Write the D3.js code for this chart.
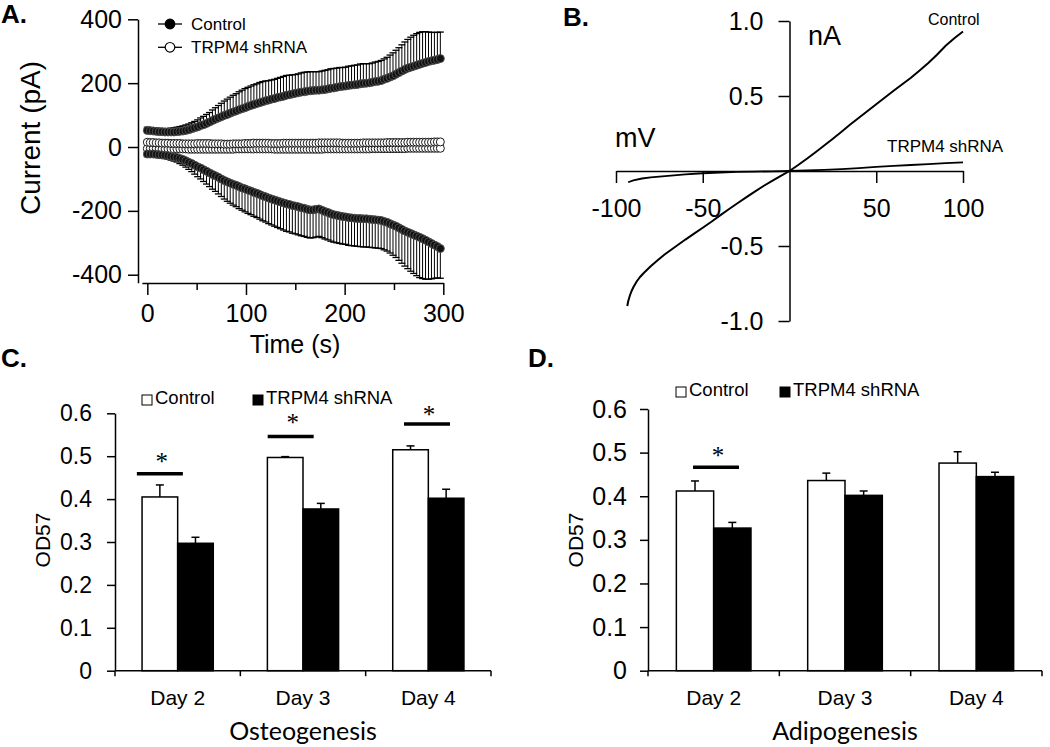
<!DOCTYPE html>
<html>
<head>
<meta charset="utf-8">
<script src="https://cdn.jsdelivr.net/npm/d3@7"></script>
<style>
html,body{margin:0;padding:0;background:#fff;}
svg{display:block;}
</style>
</head>
<body>
<script>
// ---------------- DATA ----------------
// Panel A: whole-cell current vs time (sampled every 3 s)
const sampleStepA = 3;
const ctrlOutward = [
 52,51,50,49,48,48,47,47,47,47,
 48,49,50,52,54,57,60,63,67,70,
 74,78,83,87,91,95,99,102,106,110,
 113,117,120,123,127,130,133,136,139,142,
 145,147,150,152,155,157,159,162,164,166,
 168,170,172,173,175,176,177,178,178,179,
 180,182,184,185,187,189,190,191,193,194,
 195,196,198,199,200,201,203,205,206,208,
 212,215,219,223,228,233,238,243,247,250,
 253,256,259,262,265,268,270,272,274,277];
const ctrlOutwardErr = [
 10,10,10,10,10,10,10,11,12,13,
 14,15,16,17,18,19,20,22,24,26,
 28,30,33,36,39,42,45,48,50,52,
 54,56,58,60,60,61,62,62,63,63,
 62,61,60,60,60,61,62,62,61,60,
 59,59,60,61,60,60,59,58,58,59,
 60,60,61,61,60,60,59,59,60,60,
 61,61,62,62,61,60,60,61,62,63,
 64,66,69,72,75,78,82,86,90,94,
 97,99,100,99,96,92,89,87,85,83];
const ctrlInward = [
 -22,-22,-22,-23,-24,-25,-26,-27,-29,-31,
 -33,-36,-39,-43,-48,-52,-57,-62,-66,-71,
 -76,-81,-86,-90,-95,-100,-105,-109,-113,-117,
 -120,-124,-128,-131,-135,-138,-142,-145,-149,-153,
 -156,-160,-163,-166,-169,-172,-175,-178,-180,-183,
 -185,-187,-190,-192,-195,-197,-197,-195,-194,-198,
 -202,-205,-209,-212,-214,-216,-218,-219,-221,-222,
 -223,-224,-224,-225,-225,-226,-227,-228,-229,-230,
 -233,-236,-240,-244,-248,-253,-258,-263,-267,-271,
 -275,-279,-283,-287,-292,-297,-302,-307,-312,-318];
const ctrlInwardErr = [
 8,8,8,9,9,10,10,11,12,13,
 14,16,18,20,22,25,28,31,34,37,
 40,43,46,49,52,55,58,61,63,65,
 67,69,70,72,73,74,75,76,77,78,
 79,80,81,82,83,84,85,86,86,87,
 87,88,88,88,88,88,87,87,86,86,
 86,86,86,86,86,86,86,86,87,87,
 87,87,88,88,88,88,88,88,88,88,
 89,90,92,95,98,102,106,110,114,118,
 121,124,126,125,122,117,111,104,98,93];
const shOutward = [
 15,14,14,13,13,12,12,12,11,11,
 11,11,10,10,10,10,10,11,11,11,
 11,11,10,10,10,10,9,9,9,10,
 10,10,10,11,11,11,12,12,12,12,
 12,12,11,11,11,11,12,12,12,12,
 12,12,12,12,12,12,12,12,13,13,
 13,13,13,13,13,13,12,12,12,12,
 12,12,12,13,13,13,13,13,13,13,
 13,14,14,14,14,14,14,14,15,15,
 15,15,15,15,15,15,15,16,16,16];
const shInward = [
 -5,-5,-5,-5,-6,-6,-6,-6,-6,-6,
 -6,-6,-6,-6,-7,-7,-7,-7,-7,-7,
 -7,-7,-7,-7,-7,-7,-7,-7,-7,-7,
 -6,-6,-6,-6,-6,-6,-6,-6,-6,-6,
 -6,-6,-6,-7,-7,-7,-7,-7,-7,-7,
 -7,-7,-7,-7,-7,-7,-7,-7,-7,-7,
 -6,-6,-6,-6,-6,-6,-6,-6,-6,-6,
 -6,-6,-6,-6,-6,-6,-5,-5,-5,-5,
 -5,-5,-5,-5,-5,-5,-5,-5,-4,-4,
 -4,-4,-4,-4,-4,-4,-4,-4,-4,-4];
const timeTicksA = [0, 100, 200, 300];
const timeMinorTicksA = [50, 150, 250];
const currentTicksA = [-400, -200, 0, 200, 400];
const seriesNamesA = ["Control", "TRPM4 shRNA"];

// Panel B: I-V relations (mV, nA)
const ivCtrlV = [-93.5,-93,-92,-91,-90,-88,-86,-84,-80,-76,-72,-68,-64,-60,-55,-50,-45,-40,-35,-30,-25,-20,-15,-10,-5,0,5,10,15,20,25,30,35,40,45,50,55,60,65,70,75,80,85,90,95,100];
const ivCtrlI = [-0.90,-0.87,-0.83,-0.80,-0.775,-0.735,-0.705,-0.68,-0.635,-0.595,-0.557,-0.523,-0.49,-0.457,-0.418,-0.378,-0.338,-0.296,-0.255,-0.215,-0.176,-0.137,-0.10,-0.066,-0.033,0,0.04,0.082,0.125,0.17,0.215,0.262,0.31,0.355,0.40,0.445,0.49,0.535,0.578,0.622,0.67,0.72,0.775,0.835,0.885,0.93];
const ivShV = [-93,-90,-85,-80,-70,-60,-50,-40,-30,-20,-10,0,10,20,30,40,50,60,70,80,90,100];
const ivShI = [-0.075,-0.062,-0.05,-0.042,-0.032,-0.023,-0.015,-0.01,-0.006,-0.004,-0.002,0,0.004,0.008,0.013,0.019,0.027,0.034,0.040,0.046,0.052,0.058];
const mvTicksB = [-100, -50, 50, 100];
const naTicksB = [-1.0, -0.5, 0.5, 1.0];

// Panels C and D: OD57
const days = ["Day 2", "Day 3", "Day 4"];
const barSeries = ["Control", "TRPM4 shRNA"];
const odTicks = [0, 0.1, 0.2, 0.3, 0.4, 0.5, 0.6];
const osteoControl = [0.405, 0.497, 0.515];
const osteoControlErr = [0.028, 0.002, 0.009];
const osteoShRNA = [0.297, 0.377, 0.402];
const osteoShRNAErr = [0.014, 0.013, 0.021];
const osteoSig = ["Day 2", "Day 3", "Day 4"];
const adipoControl = [0.412, 0.436, 0.476];
const adipoControlErr = [0.023, 0.017, 0.026];
const adipoShRNA = [0.327, 0.402, 0.445];
const adipoShRNAErr = [0.013, 0.010, 0.010];
const adipoSig = ["Day 2"];

// ---------------- DRAWING ----------------
const SANS = "'Liberation Sans', Arial, Helvetica, sans-serif";
const svg = d3.select("body").append("svg")
  .attr("width", 1050).attr("height", 747)
  .style("font-family", SANS);
svg.append("rect").attr("width", 1050).attr("height", 747).attr("fill", "#fff");

function styleAxis(g, size) {
  g.attr("font-family", SANS).attr("font-size", size);
  g.selectAll("path,line").attr("stroke", "#000").attr("stroke-width", 1.5);
  g.selectAll("text").attr("fill", "#000");
}
function label(g, txt, x, y, size, opts = {}) {
  const t = g.append("text").attr("x", x).attr("y", y).attr("font-size", size)
    .attr("fill", "#000").text(txt);
  if (opts.anchor) t.attr("text-anchor", opts.anchor);
  if (opts.weight) t.attr("font-weight", opts.weight);
  if (opts.family) t.attr("font-family", opts.family);
  if (opts.rotate) t.attr("transform", `rotate(${opts.rotate},${x},${y})`);
  if (opts.baseline) t.attr("dominant-baseline", opts.baseline);
  return t;
}

// ===== Panel A =====
{
  const g = svg.append("g");
  const x = d3.scaleLinear().domain([-5.5, 300]).range([141.9, 443.3]);
  const y = d3.scaleLinear().domain([-425, 400]).range([282.7, 19.3]);

  const ya = g.append("g").attr("transform", "translate(138,0)")
    .call(d3.axisLeft(y).tickValues(currentTicksA).tickSize(10).tickSizeOuter(0)
      .tickPadding(6).tickFormat(d => String(d)));
  styleAxis(ya, 25);
  const xa = g.append("g").attr("transform", "translate(0,283)")
    .call(d3.axisBottom(x).tickValues(timeTicksA).tickSize(12).tickSizeOuter(0)
      .tickPadding(9).tickFormat(d => String(d)));
  styleAxis(xa, 25);
  const xm = g.append("g").attr("transform", "translate(0,283)")
    .call(d3.axisBottom(x).tickValues(timeMinorTicksA).tickSize(7).tickSizeOuter(0).tickFormat(""));
  xm.select(".domain").remove();
  styleAxis(xm, 25);

  const series = [
    {vals: shInward, errs: null, dir: -1, fill: "#fff", stroke: "#000"},
    {vals: shOutward, errs: null, dir: 1, fill: "#fff", stroke: "#000"},
    {vals: ctrlOutward, errs: ctrlOutwardErr, dir: 1, fill: "#111", stroke: "#555"},
    {vals: ctrlInward, errs: ctrlInwardErr, dir: -1, fill: "#111", stroke: "#555"}
  ];
  const line = d3.line().x((d, i) => x(i * sampleStepA)).y(d => y(d));
  series.forEach(s => {
    const sg = g.append("g");
    sg.append("path").datum(s.vals).attr("d", line)
      .attr("fill", "none").attr("stroke", "#000").attr("stroke-width", 1);
    if (s.errs) {
      const eb = sg.append("g").selectAll("g").data(s.vals).join("g");
      eb.append("line")
        .attr("x1", (d, i) => x(i * sampleStepA)).attr("x2", (d, i) => x(i * sampleStepA))
        .attr("y1", d => y(d))
        .attr("y2", (d, i) => y(d + s.dir * s.errs[i]))
        .attr("stroke", "#000").attr("stroke-width", 1);
      eb.append("line")
        .attr("x1", (d, i) => x(i * sampleStepA) - 3.5).attr("x2", (d, i) => x(i * sampleStepA) + 3.5)
        .attr("y1", (d, i) => y(d + s.dir * s.errs[i]))
        .attr("y2", (d, i) => y(d + s.dir * s.errs[i]))
        .attr("stroke", "#000").attr("stroke-width", 1.3);
    }
  });
  series.forEach(s => {
    g.append("g").selectAll("circle").data(s.vals).join("circle")
      .attr("cx", (d, i) => x(i * sampleStepA)).attr("cy", d => y(d)).attr("r", 4)
      .attr("fill", s.fill).attr("stroke", s.stroke).attr("stroke-width", 0.9);
  });

  // legend
  const lg = g.append("g");
  seriesNamesA.forEach((name, i) => {
    const cy = 24 + i * 23.3;
    lg.append("line").attr("x1", 158).attr("x2", 182).attr("y1", cy).attr("y2", cy)
      .attr("stroke", "#000").attr("stroke-width", 1.3);
    lg.append("circle").attr("cx", 170).attr("cy", cy).attr("r", 4.8)
      .attr("fill", i === 0 ? "#000" : "#fff").attr("stroke", "#000").attr("stroke-width", 1.2);
    label(lg, name, 191, cy + 6, 17);
  });

  label(g, "Current (pA)", 30, 138, 28, {anchor: "middle", rotate: -90, baseline: "central"});
  label(g, "Time (s)", 295, 353, 25, {anchor: "middle"});
  label(g, "A.", 1, 23, 26, {weight: "bold"});
}

// ===== Panel B =====
{
  const g = svg.append("g");
  const x = d3.scaleLinear().domain([-100, 100]).range([616, 963]);
  const y = d3.scaleLinear().domain([-1, 1]).range([321, 21]);
  const fmt = d => d.toFixed(1);
  const ya = g.append("g").attr("transform", `translate(${x(0)},0)`)
    .call(d3.axisLeft(y).tickValues(naTicksB).tickSize(11).tickSizeOuter(0)
      .tickPadding(15).tickFormat(fmt));
  styleAxis(ya, 25);
  const xa = g.append("g").attr("transform", `translate(0,${y(0)})`)
    .call(d3.axisBottom(x).tickValues(mvTicksB).tickSize(12).tickSizeOuter(0)
      .tickPadding(16).tickFormat(d => String(d)));
  styleAxis(xa, 25);

  const line = d3.line().x(d => x(d[0])).y(d => y(d[1]));
  g.append("path").datum(ivShV.map((v, i) => [v, ivShI[i]])).attr("d", line)
    .attr("fill", "none").attr("stroke", "#000").attr("stroke-width", 1.8);
  g.append("path").datum(ivCtrlV.map((v, i) => [v, ivCtrlI[i]])).attr("d", line)
    .attr("fill", "none").attr("stroke", "#000").attr("stroke-width", 2);

  label(g, "nA", 808, 45, 27);
  label(g, "mV", 615, 147, 27);
  label(g, "Control", 928, 25, 16);
  label(g, "TRPM4 shRNA", 887, 152, 17);
  label(g, "B.", 563, 26, 26, {weight: "bold"});
}

// ===== Panels C & D =====
function drawBars(cfg) {
  const g = svg.append("g");
  const x0 = d3.scaleBand().domain(days).range([cfg.left, cfg.right]).paddingInner(0).paddingOuter(0);
  const x1 = d3.scaleBand().domain(barSeries).range([0, x0.bandwidth()]).paddingInner(0).paddingOuter(0.76);
  const y = d3.scaleLinear().domain([0, 0.6]).range([670.7, cfg.top]);

  const ya = g.append("g").attr("transform", `translate(${cfg.left},0)`)
    .call(d3.axisLeft(y).tickValues(odTicks).tickSize(8).tickSizeOuter(0)
      .tickPadding(cfg.tickPad).tickFormat(d => d === 0 ? "0" : d.toFixed(1)));
  styleAxis(ya, cfg.tickFont);

  // category axis
  const xa = g.append("g");
  xa.append("line").attr("x1", cfg.left).attr("x2", cfg.right).attr("y1", y(0)).attr("y2", y(0))
    .attr("stroke", "#000").attr("stroke-width", 1.5);
  const bounds = days.map(d => x0(d)).concat([x0.range()[1]]);
  xa.selectAll("line.tk").data(bounds).join("line").attr("class", "tk")
    .attr("x1", d => d).attr("x2", d => d).attr("y1", y(0)).attr("y2", y(0) + 5.5)
    .attr("stroke", "#000").attr("stroke-width", 1.5);
  xa.selectAll("text").data(days).join("text")
    .attr("x", d => x0(d) + x0.bandwidth() / 2).attr("y", 705)
    .attr("text-anchor", "middle").attr("font-size", 21).attr("fill", "#000").text(d => d);

  const groups = [
    {name: "Control", vals: cfg.ctrl, errs: cfg.ctrlErr, fill: "#fff"},
    {name: "TRPM4 shRNA", vals: cfg.sh, errs: cfg.shErr, fill: "#000"}
  ];
  groups.forEach(s => {
    const bg = g.append("g");
    const cx = (d, i) => x0(days[i]) + x1(s.name) + x1.bandwidth() / 2;
    bg.selectAll("line.eb").data(s.vals).join("line").attr("class", "eb")
      .attr("x1", cx).attr("x2", cx)
      .attr("y1", d => y(d)).attr("y2", (d, i) => y(d + s.errs[i]))
      .attr("stroke", "#000").attr("stroke-width", 1.5);
    bg.selectAll("line.cap").data(s.vals).join("line").attr("class", "cap")
      .attr("x1", (d, i) => cx(d, i) - 4).attr("x2", (d, i) => cx(d, i) + 4)
      .attr("y1", (d, i) => y(d + s.errs[i])).attr("y2", (d, i) => y(d + s.errs[i]))
      .attr("stroke", "#000").attr("stroke-width", 1.5);
    bg.selectAll("rect").data(s.vals).join("rect")
      .attr("x", (d, i) => x0(days[i]) + x1(s.name))
      .attr("width", x1.bandwidth())
      .attr("y", d => y(d)).attr("height", d => y(0) - y(d))
      .attr("fill", s.fill).attr("stroke", "#000").attr("stroke-width", 1.5);
  });

  // significance annotations
  const astSize = 25;
  cfg.sig.forEach((day, k) => {
    const a = cfg.sigPos[k];
    const cxc = x0(day) + x1("Control") + x1.bandwidth() / 2 + a.dx;
    g.append("line").attr("x1", cxc - 23).attr("x2", cxc + 23)
      .attr("y1", y(a.v)).attr("y2", y(a.v))
      .attr("stroke", "#000").attr("stroke-width", 3.5);
    g.append("text").attr("x", cxc + 2).attr("y", y(a.v) - a.ast + astSize * 0.5)
      .attr("text-anchor", "middle").attr("font-family", "'Liberation Serif', 'Times New Roman', serif")
      .attr("font-size", astSize).attr("fill", "#000").text("*");
  });

  // legend
  const lg = g.append("g");
  lg.append("rect").attr("x", cfg.legX[0]).attr("y", cfg.legY - 9).attr("width", 10).attr("height", 10)
    .attr("fill", "#fff").attr("stroke", "#000").attr("stroke-width", 1);
  label(lg, barSeries[0], cfg.legX[0] + 13, cfg.legY, 18.5);
  lg.append("rect").attr("x", cfg.legX[1]).attr("y", cfg.legY - 9).attr("width", 10).attr("height", 10)
    .attr("fill", "#000").attr("stroke", "#000").attr("stroke-width", 1);
  label(lg, barSeries[1], cfg.legX[1] + 13, cfg.legY, 18.5);

  label(g, "OD57", cfg.yLabX, 540, 21, {anchor: "middle", rotate: -90, baseline: "central"});
  label(g, cfg.title, (cfg.left + cfg.right) / 2, 740, 25, {anchor: "middle", family: "Lato, 'Open Sans', sans-serif"});
  label(g, cfg.panel, cfg.panelX, 367, 26, {weight: "bold"});
}

drawBars({
  left: 115, right: 491, top: 413.3, tickPad: 15, tickFont: 23,
  ctrl: osteoControl, ctrlErr: osteoControlErr, sh: osteoShRNA, shErr: osteoShRNAErr,
  sig: osteoSig,
  sigPos: [{v: 0.459, dx: 0, ast: 16}, {v: 0.546, dx: 5.5, ast: 17.5}, {v: 0.575, dx: 16.5, ast: 14}],
  legX: [142, 253], legY: 404, yLabX: 42, title: "Osteogenesis", panel: "C.", panelX: 1
});
drawBars({
  left: 648, right: 1042, top: 409, tickPad: 13, tickFont: 25,
  ctrl: adipoControl, ctrlErr: adipoControlErr, sh: adipoShRNA, shErr: adipoShRNAErr,
  sig: adipoSig,
  sigPos: [{v: 0.4665, dx: 21, ast: 15.5}],
  legX: [676, 780], legY: 396, yLabX: 575, title: "Adipogenesis", panel: "D.", panelX: 528
});
</script>
</body>
</html>
